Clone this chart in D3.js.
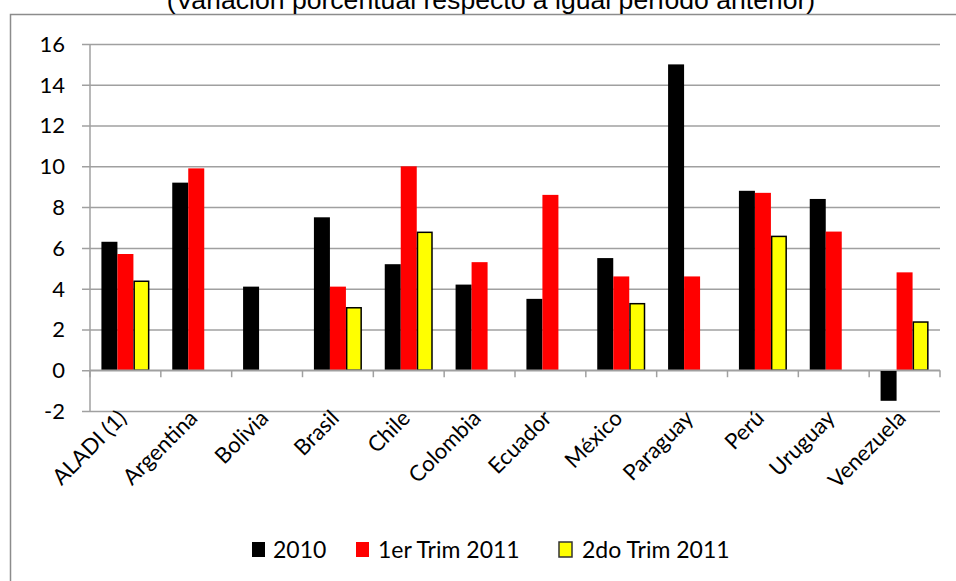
<!DOCTYPE html>
<html>
<head>
<meta charset="utf-8">
<script src="https://cdn.jsdelivr.net/npm/d3@7"></script>
<style>
  body { margin: 0; background: #fff; }
  svg { display: block; }
</style>
</head>
<body>
<svg id="chart" width="956" height="581"></svg>
<script>
const title = "(Variación porcentual respecto a igual período anterior)";
const categories = ["ALADI (1)", "Argentina", "Bolivia", "Brasil", "Chile", "Colombia", "Ecuador", "México", "Paraguay", "Perú", "Uruguay", "Venezuela"];
const seriesNames = ["2010", "1er Trim 2011", "2do Trim 2011"];
const values2010 = [6.3, 9.2, 4.1, 7.5, 5.2, 4.2, 3.5, 5.5, 15.0, 8.8, 8.4, -1.5];
const values1T2011 = [5.7, 9.9, null, 4.1, 10.0, 5.3, 8.6, 4.6, 4.6, 8.7, 6.8, 4.8];
const values2T2011 = [4.4, null, null, 3.1, 6.8, null, null, 3.3, null, 6.6, null, 2.4];
const yTicks = [-2, 0, 2, 4, 6, 8, 10, 12, 14, 16];

const series = [
  { name: seriesNames[0], values: values2010, fill: "#000000", stroke: "none" },
  { name: seriesNames[1], values: values1T2011, fill: "#ff0000", stroke: "none" },
  { name: seriesNames[2], values: values2T2011, fill: "#ffff00", stroke: "#000000" }
];

const svg = d3.select("#chart");
const font = "Lato, 'Open Sans', sans-serif";
const gridColor = "#a0a0a0";

// outer frame
svg.append("path")
  .attr("d", "M10.5,581 L10.5,14.5 L960,14.5")
  .attr("fill", "none").attr("stroke", "#8c8c8c").attr("stroke-width", 1.5);

// title (partially cut at top, as in the reference)
svg.append("text")
  .attr("x", 491).attr("y", 9)
  .attr("text-anchor", "middle")
  .attr("font-family", "'Liberation Sans', Arial, sans-serif")
  .attr("font-size", 26.6)
  .attr("fill", "#000")
  .text(title);

const pLeft = 90, pRight = 940, pTop = 44, pBottom = 411;

const x = d3.scaleBand().domain(categories).range([pLeft, pRight]).paddingInner(0).paddingOuter(0);
const y = d3.scaleLinear().domain([-2, 16]).range([pBottom, pTop]);

const barW = 16;
const xs = d3.scaleBand().domain(seriesNames).range([0, barW * 3]);

// gridlines with left ticks
const yAxis = d3.axisLeft(y).tickValues(yTicks).tickSize(-(pRight - pLeft)).tickPadding(0).tickFormat("");
const gy = svg.append("g").attr("transform", `translate(${pLeft},0)`).call(yAxis);
gy.select(".domain").remove();
gy.selectAll(".tick line").attr("stroke", gridColor).attr("stroke-width", 1.5).attr("x1", -8);

// y labels
svg.append("g").selectAll("text").data(yTicks).join("text")
  .attr("x", 65).attr("y", d => y(d))
  .attr("dy", "0.36em")
  .attr("text-anchor", "end")
  .attr("font-family", font).attr("font-size", 22).attr("fill", "#000")
  .text(d => d);

// vertical axis line
svg.append("line")
  .attr("x1", pLeft).attr("x2", pLeft).attr("y1", pTop).attr("y2", pBottom)
  .attr("stroke", gridColor).attr("stroke-width", 1.5);

// bars
const groupOffset = (x.bandwidth() - barW * 3) / 2;
series.forEach(s => {
  const inset = s.stroke !== "none" ? 0.75 : 0;
  svg.append("g").selectAll("rect")
    .data(categories.map((c, i) => ({ c, v: s.values[i] })).filter(d => d.v !== null))
    .join("rect")
    .attr("x", d => x(d.c) + groupOffset + xs(s.name) + inset)
    .attr("width", barW - 2 * inset)
    .attr("y", d => Math.min(y(d.v), y(0)) + inset)
    .attr("height", d => Math.abs(y(d.v) - y(0)) - inset)
    .attr("fill", s.fill)
    .attr("stroke", s.stroke)
    .attr("stroke-width", 1.5);
});

// x axis at zero with ticks at band boundaries
svg.append("line")
  .attr("x1", pLeft).attr("x2", pRight).attr("y1", y(0)).attr("y2", y(0))
  .attr("stroke", gridColor).attr("stroke-width", 1.5);
const boundaries = categories.map(c => x(c)).concat([pRight]);
svg.append("g").selectAll("line").data(boundaries).join("line")
  .attr("x1", d => d).attr("x2", d => d)
  .attr("y1", y(0)).attr("y2", y(0) + 7)
  .attr("stroke", gridColor).attr("stroke-width", 1.5);

// x labels rotated
svg.append("g").selectAll("text").data(categories).join("text")
  .attr("transform", d => `translate(${x(d) + x.bandwidth() / 2 - 3},${pBottom + 3}) rotate(-45)`)
  .attr("text-anchor", "end")
  .attr("dy", "0.36em")
  .attr("font-family", font).attr("font-size", 22).attr("fill", "#000")
  .text(d => d);

// legend
const legendItems = [
  { name: seriesNames[0], sx: 252, tx: 273 },
  { name: seriesNames[1], sx: 356, tx: 378 },
  { name: seriesNames[2], sx: 559, tx: 582 }
];
const lg = svg.append("g");
legendItems.forEach((it, i) => {
  const s = series[i];
  lg.append("rect")
    .attr("x", it.sx).attr("y", 542).attr("width", 13).attr("height", 15)
    .attr("fill", s.fill)
    .attr("stroke", s.stroke === "none" ? "none" : "#333")
    .attr("stroke-width", 1.5);
  lg.append("text")
    .attr("x", it.tx).attr("y", 558)
    .attr("font-family", font).attr("font-size", 23).attr("fill", "#000")
    .text(it.name);
});
</script>
</body>
</html>
